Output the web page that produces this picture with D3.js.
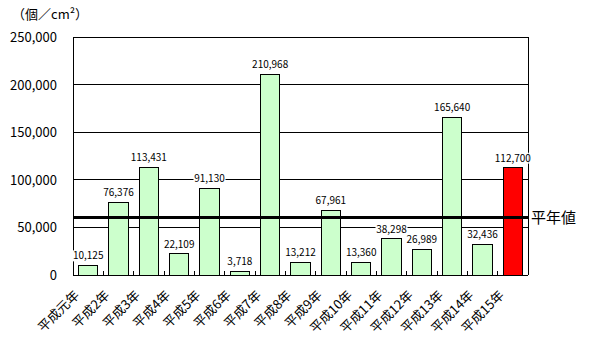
<!DOCTYPE html>
<html>
<head>
<meta charset="utf-8">
<script src="https://cdn.jsdelivr.net/npm/d3@7"></script>
<style>
  body { margin: 0; background: #fff; }
  text { font-family: "Noto Sans CJK JP", "DejaVu Sans", sans-serif; }
</style>
</head>
<body>
<svg id="chart" width="592" height="352"></svg>
<script>
// data
var years = ["平成元年", "平成2年", "平成3年", "平成4年", "平成5年", "平成6年", "平成7年", "平成8年",
             "平成9年", "平成10年", "平成11年", "平成12年", "平成13年", "平成14年", "平成15年"];
var counts = [10125, 76376, 113431, 22109, 91130, 3718, 210968, 13212, 67961, 13360, 38298, 26989, 165640, 32436, 112700];
var yTicks = [0, 50000, 100000, 150000, 200000, 250000];
var normalValue = 60500;

(function () {
  var svg = d3.select("#chart");
  var mLeft = 73, mRight = 528, mTop = 37, mBottom = 275;

  var x = d3.scaleBand().domain(years).range([mLeft, mRight]).paddingInner(0.37).paddingOuter(0.185);
  var y = d3.scaleLinear().domain([0, 250000]).range([mBottom, mTop]);
  var fmt = d3.format(",");

  // grid lines
  svg.append("g").selectAll("line")
    .data(yTicks.slice(1))
    .enter().append("line")
      .attr("x1", mLeft).attr("x2", mRight)
      .attr("y1", function(d) { return y(d); })
      .attr("y2", function(d) { return y(d); })
      .attr("stroke", "#000").attr("stroke-width", 1).attr("shape-rendering", "crispEdges");

  // frame: left, right
  svg.append("line").attr("x1", mLeft).attr("x2", mLeft).attr("y1", mTop).attr("y2", mBottom)
    .attr("stroke", "#000").attr("shape-rendering", "crispEdges");
  svg.append("line").attr("x1", mRight).attr("x2", mRight).attr("y1", mTop).attr("y2", mBottom)
    .attr("stroke", "#000").attr("shape-rendering", "crispEdges");

  // y labels
  svg.append("g").selectAll("text")
    .data(yTicks)
    .enter().append("text")
      .attr("x", 57)
      .attr("y", function(d) { return y(d) + 5; })
      .attr("text-anchor", "end")
      .attr("font-size", 13)
      .text(function(d) { return fmt(d); });

  svg.append("text").attr("x", 12).attr("y", 19).attr("font-size", 13).text("（個／cm²）");

  // bars
  svg.append("g").selectAll("rect")
    .data(counts)
    .enter().append("rect")
      .attr("x", function(d, i) { return x(years[i]); })
      .attr("y", function(d) { return y(d); })
      .attr("width", x.bandwidth())
      .attr("height", function(d) { return mBottom - y(d); })
      .attr("fill", function(d, i) { return i === counts.length - 1 ? "#ff0000" : "#ccffcc"; })
      .attr("stroke", "#000").attr("stroke-width", 1).attr("shape-rendering", "crispEdges");

  // x axis line and ticks
  svg.append("line").attr("x1", mLeft).attr("x2", mRight).attr("y1", mBottom).attr("y2", mBottom)
    .attr("stroke", "#000").attr("shape-rendering", "crispEdges");
  var step = x.step();
  svg.append("g").selectAll("line")
    .data(d3.range(1, years.length))
    .enter().append("line")
      .attr("x1", function(i) { return mLeft + i * step; })
      .attr("x2", function(i) { return mLeft + i * step; })
      .attr("y1", mBottom).attr("y2", mBottom - 4)
      .attr("stroke", "#000").attr("shape-rendering", "crispEdges");

  // value labels with white backing
  var labels = svg.append("g").selectAll("g")
    .data(counts)
    .enter().append("g")
      .attr("transform", function(d, i) {
        return "translate(" + (x(years[i]) + x.bandwidth() / 2) + "," + (y(d) - 6) + ")";
      });
  labels.append("rect")
    .attr("x", -16).attr("y", -9).attr("width", 32).attr("height", 11)
    .attr("fill", "#fff");
  labels.append("text")
    .attr("text-anchor", "middle")
    .attr("font-size", 10)
    .text(function(d) { return fmt(d); });

  // normal-year line
  svg.append("line").attr("x1", mLeft).attr("x2", mRight)
    .attr("y1", y(normalValue)).attr("y2", y(normalValue))
    .attr("stroke", "#000").attr("stroke-width", 3);
  svg.append("text").attr("x", 531).attr("y", y(normalValue) + 6)
    .attr("font-size", 15).text("平年値");

  // x labels
  svg.append("g").selectAll("text")
    .data(years)
    .enter().append("text")
      .attr("transform", function(d) {
        return "translate(" + (x(d) + x.bandwidth() / 2 - 8) + "," + 296 + ") rotate(-45)";
      })
      .attr("text-anchor", "end")
      .attr("font-size", 13)
      .text(function(d) { return d; });
})();
</script>
</body>
</html>
